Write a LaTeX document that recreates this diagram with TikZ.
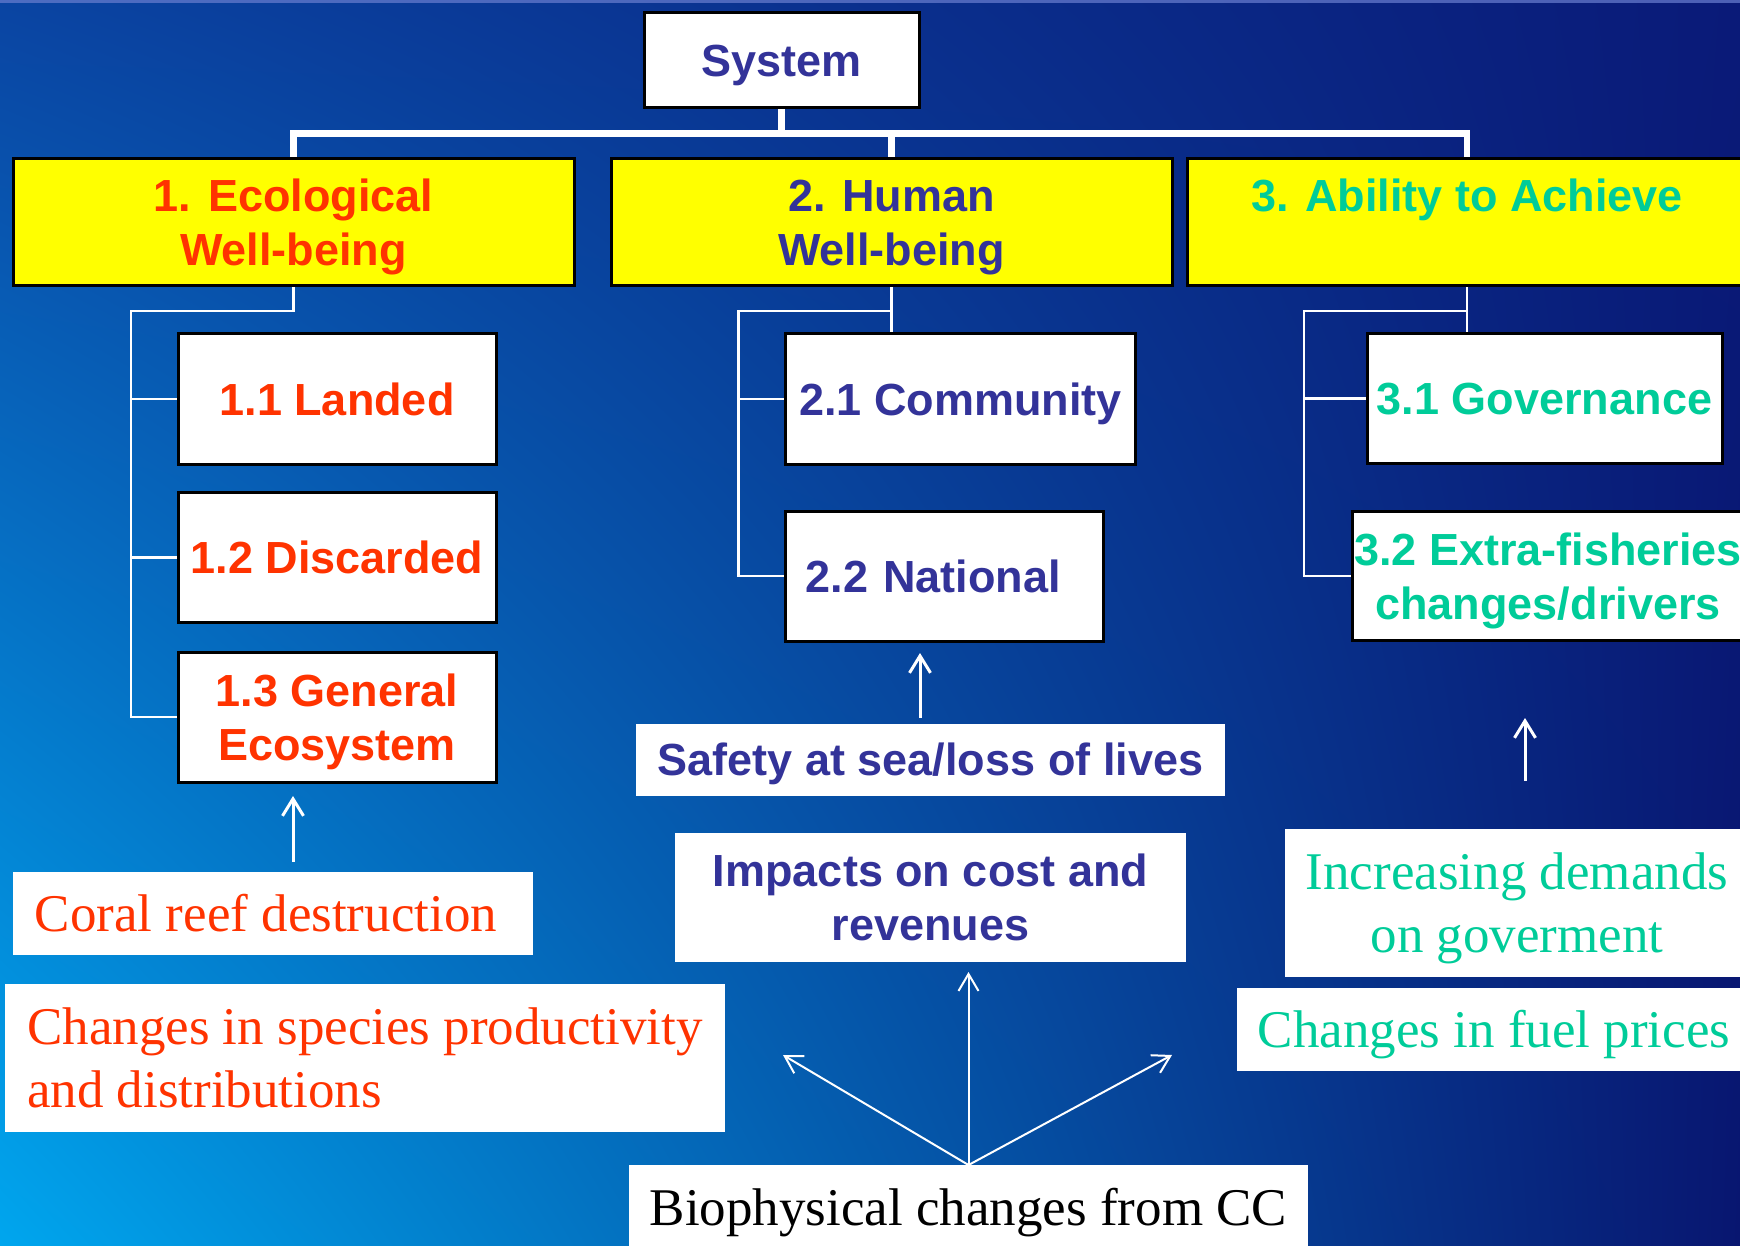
\documentclass[tikz,border=0pt]{standalone}
\usepackage{fontspec}
\setmainfont{Liberation Serif}
\newfontfamily\arialfont{Liberation Sans}
\usetikzlibrary{arrows.meta,shadings}
\definecolor{cred}{HTML}{FF3300}
\definecolor{cnavy}{HTML}{333399}
\definecolor{cteal}{HTML}{00CC99}
\definecolor{cyel}{HTML}{FFFF00}
\definecolor{bgUL}{HTML}{0A44A2}
\definecolor{bgUR}{HTML}{0A1A78}
\definecolor{bgLL}{HTML}{00A6EE}
\definecolor{bgLR}{HTML}{081670}
\definecolor{topline}{HTML}{6A7ED0}
\pgfdeclarelayer{bg}
\pgfdeclarelayer{lines}
\pgfsetlayers{bg,lines,main}
\begin{document}
\begin{tikzpicture}[x=1pt,y=-1pt,
  framebox/.style={draw=black, line width=3pt, fill=white, inner sep=0pt, outer sep=0pt},
  yelbox/.style={framebox, fill=cyel},
  plainbox/.style={fill=white, inner sep=0pt, outer sep=0pt},
  sansone/.style={font=\arialfont\bfseries\fontsize{45}{54}\selectfont, text height=32.2pt, text depth=0pt},
  sanstwo/.style={font=\arialfont\bfseries\fontsize{45}{54}\selectfont, align=center, text height=86.2pt, text depth=0pt},
  serifone/.style={font=\fontsize{53}{63}\selectfont, text height=35.1pt, text depth=0pt},
  seriftwo/.style={font=\fontsize{53}{63}\selectfont, text height=98.1pt, text depth=0pt},
  bus/.style={draw=white, line width=6.5pt, line join=miter},
  sub/.style={draw=white, line width=2.5pt, line join=miter},
  uparrow/.style={draw=white, line width=3pt, -{Straight Barb[length=17pt,width=21pt]}},
  bioarrow/.style={draw=white, line width=2pt, -{Straight Barb[length=17pt,width=20pt]}}
]
\useasboundingbox (0,0) rectangle (1740,1246);
\begin{pgfonlayer}{bg}
\shade[shading=bilinear interpolation, upper left=bgUL, upper right=bgUR, lower left=bgLL, lower right=bgLR] (0,0) rectangle (1740,1246);
\fill[topline, opacity=0.7] (0,0) rectangle (1740,3);
\end{pgfonlayer}
\clip (0,0) rectangle (1740,1246);

% top level
\node[framebox, sansone, text=cnavy, minimum width=275pt, minimum height=95pt] (sys) at (781.5,60.5) {System};
\node[yelbox, sanstwo, text=cred, minimum width=561pt, minimum height=127pt] (e1) at (293.5,222.5) {1. Ecological\\Well-being};
\node[yelbox, sanstwo, text=cnavy, minimum width=561pt, minimum height=127pt] (e2) at (891.5,222.5) {2. Human\\Well-being};
\node[yelbox, sanstwo, text=cteal, minimum width=560pt, minimum height=127pt] (e3) at (1467,222.5) {3. Ability to Achieve\\\mbox{}};

% sub boxes
\node[framebox, sansone, text=cred, minimum width=318pt, minimum height=130pt] (b11) at (337,399) {1.1 Landed};
\node[framebox, sansone, text=cred, minimum width=318pt, minimum height=130pt] (b12) at (337,557.5) {1.2 Discarded};
\node[framebox, sanstwo, text=cred, minimum width=318pt, minimum height=130pt] (b13) at (337,717) {1.3 General\\Ecosystem};
\node[framebox, sansone, text=cnavy, minimum width=350pt, minimum height=130pt] (b21) at (960.7,399) {2.1 Community};
\node[framebox, sansone, text=cnavy, minimum width=318pt, minimum height=130pt, text width=278pt, align=left, inner xsep=20pt] (b22) at (944.6,576) {2.2 National};
\node[framebox, sansone, text=cteal, minimum width=355pt, minimum height=129pt] (b31) at (1544.5,398.5) {3.1 Governance};
\node[framebox, sanstwo, text=cteal, minimum width=392pt, minimum height=129pt] (b32) at (1548,576) {3.2 Extra-fisheries\\changes/drivers};

% driver boxes
\node[plainbox, serifone, text=cred, minimum width=520pt, minimum height=83pt] (coral) at (273,913.5) {Coral reef destruction\hspace*{14pt}};
\node[plainbox, seriftwo, text=cred, align=left, minimum width=719.5pt, minimum height=148pt] (species) at (365,1058) {Changes in species productivity\\and distributions};
\node[plainbox, sansone, text=cnavy, minimum width=589pt, minimum height=72pt] (safety) at (930.5,759.6) {Safety at sea/loss of lives};
\node[plainbox, sanstwo, text=cnavy, minimum width=511pt, minimum height=129pt] (imp) at (930.5,897.5) {Impacts on cost and\\revenues};
\node[plainbox, seriftwo, text=cteal, align=center, minimum width=464pt, minimum height=148pt] (dem) at (1517,903) {Increasing demands\\on goverment};
\node[plainbox, serifone, text=cteal, minimum width=514pt, minimum height=83pt] (fuel) at (1494,1029.5) {Changes in fuel prices};
\node[plainbox, serifone, text=black, minimum width=679pt, minimum height=86pt] (bio) at (968.5,1208) {Biophysical changes from CC};

% coordinates
\coordinate (busc) at (781.5,133.5);
\coordinate (t1) at (131,311);
\coordinate (t2) at (738.5,311);
\coordinate (t3) at (1304,311);
\coordinate (a1s) at (293,862);
\coordinate (a1e) at (293,796);
\coordinate (a2s) at (920,718);
\coordinate (a2e) at (920,653);
\coordinate (a3s) at (1525,781);
\coordinate (a3e) at (1525,718);
\coordinate (tipU) at (968.5,972);
\coordinate (tipL) at (783,1055);
\coordinate (tipR) at (1172,1055);

\begin{pgfonlayer}{lines}
\draw[bus] (sys.south) -- (busc);
\draw[bus] (e1.north) |- (busc) -| (e3.north);
\draw[bus] (e2.north) -- (e2.north |- busc);

\draw[sub] (e1.south) |- (t1) |- (b13.west);
\draw[sub] (t1 |- b11.west) -- (b11.west);
\draw[sub] (t1 |- b12.west) -- (b12.west);

\draw[sub] (e2.south) -- (e2.south |- b21.north);
\draw[sub] (e2.south |- t2) -- (t2) |- (b22.west);
\draw[sub] (t2 |- b21.west) -- (b21.west);

\draw[sub] (e3.south) -- (e3.south |- b31.north);
\draw[sub] (e3.south |- t3) -- (t3) |- (b32.west);
\draw[sub] (t3 |- b31.west) -- (b31.west);
\end{pgfonlayer}

\draw[uparrow] (a1s) -- (a1e);
\draw[uparrow] (a2s) -- (a2e);
\draw[uparrow] (a3s) -- (a3e);

\draw[bioarrow] (bio.north) -- (tipU);
\draw[bioarrow] (bio.north) -- (tipL);
\draw[bioarrow] (bio.north) -- (tipR);
\end{tikzpicture}
\end{document}
